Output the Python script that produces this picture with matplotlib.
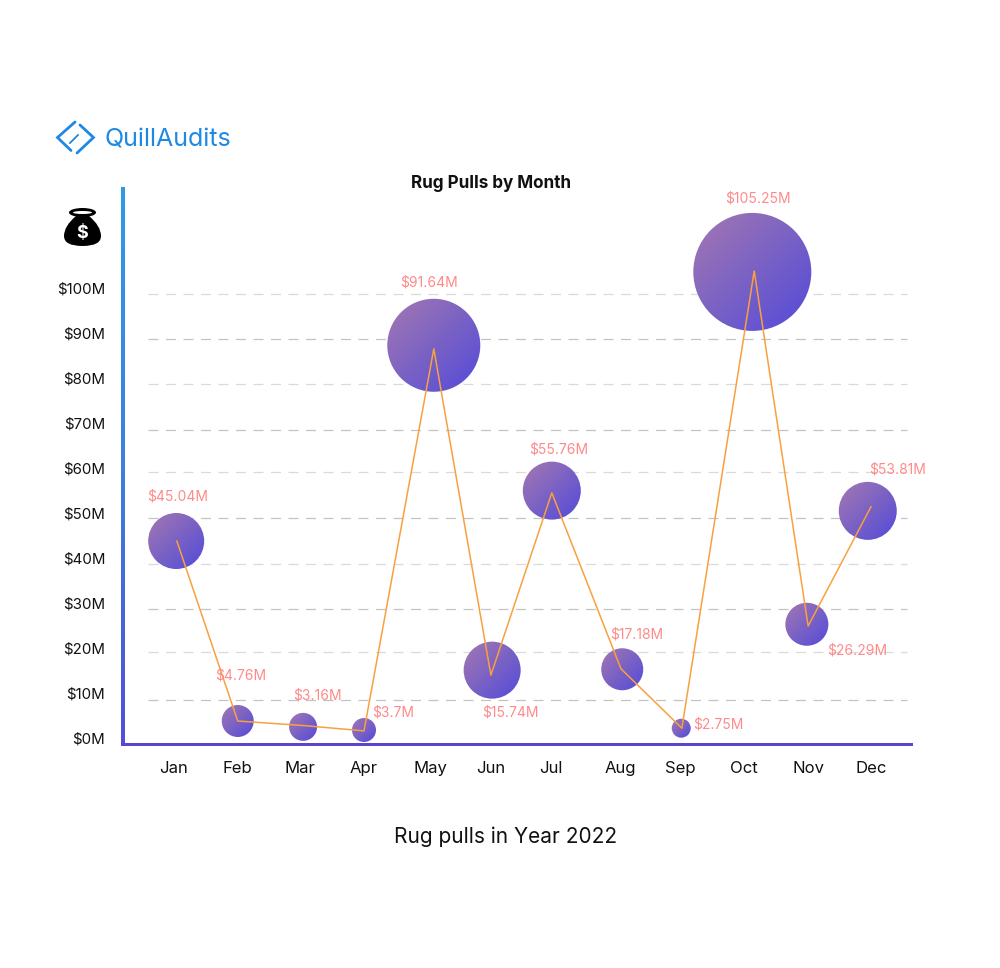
import numpy as np
import matplotlib
matplotlib.use('Agg')
import matplotlib.pyplot as plt
from matplotlib.colors import LinearSegmentedColormap
from matplotlib.patches import Ellipse, PathPatch, Rectangle
from matplotlib.path import Path

plt.rcParams['font.family'] = ['Inter', 'DejaVu Sans']

# Data
months = ['Jan', 'Feb', 'Mar', 'Apr', 'May', 'Jun', 'Jul', 'Aug', 'Sep', 'Oct', 'Nov', 'Dec']
month_ticks = [0, 1.01, 2.0, 3.01, 4.05, 5.0, 5.95, 7.05, 8.0, 8.99, 10.01, 11.0]
line_x = [0.06, 1.02, 2.05, 3.01, 4.11, 5.01, 5.97, 7.06, 8.02, 9.16, 10.01, 11.0]
line_y = [44, 4, 3, 1.8, 86.7, 14.2, 54.7, 15.6, 2.4, 104, 25.1, 51.6]
bubble_x = [0.05, 1.02, 2.05, 3.01, 4.11, 5.03, 5.97, 7.08, 8.01, 9.13, 9.99, 10.95]
bubble_y = [44, 4, 2.7, 2, 87.5, 15.3, 55.2, 15.5, 2.4, 103.8, 25.5, 50.7]
bubble_r = [28, 16, 14, 12, 46.5, 28.5, 29, 21, 9.5, 59, 21.5, 29]
labels = ['$45.04M', '$4.76M', '$3.16M', '$3.7M', '$91.64M', '$15.74M', '$55.76M',
          '$17.18M', '$2.75M', '$105.25M', '$26.29M', '$53.81M']
y_ticks = list(range(0, 101, 10))
grid_y = [8.7, 19.3, 28.9, 38.9, 49.1, 59.3, 68.7, 78.9, 88.9, 98.9]

# label offset from the line point, in pixels
label_dx = [1, 3, 14, 29, -5, 19, 7, 16, 36, 4, 49, 27]
label_dy = [45, 46, 30, 18, 66, -37, 43, 34, 4, 73, -24, 37]

W, H = 1000, 968
fig = plt.figure(figsize=(W / 100, H / 100), dpi=100, facecolor='white')

# axes box in pixels: left 122, right 912, top 187, bottom 744
ax = fig.add_axes([122 / W, 1 - 744 / H, 790 / W, 557 / H])
ax.set_xlim(-0.804, 11.647)
ax.set_ylim(-1.11, 122.67)
px_x = 790 / (11.647 + 0.804)
px_y = 557 / (122.67 + 1.11)
for s in ax.spines.values():
    s.set_visible(False)

# grid
for i, g in enumerate(grid_y):
    col = '#c4c4c4' if i % 2 == 0 else '#dadada'
    ax.axhline(g, xmin=26 / 790, xmax=785 / 790, color=col, lw=0.9, dashes=(8, 6), zorder=1)

# bubbles with a diagonal gradient, image a bit larger than the clip circle
bubble_cmap = LinearSegmentedColormap.from_list('bubble', ['#a97ab0', '#7a62c4', '#4f47dc'])
yy, xx = np.mgrid[0:1:200j, 0:1:200j]
grad = (xx + yy) / 2
for x, y, r in zip(bubble_x, bubble_y, bubble_r):
    w, h = 2 * r / px_x, 2 * r / px_y
    im = ax.imshow(grad, cmap=bubble_cmap, aspect='auto', origin='upper', zorder=2,
                   extent=[x - w * 0.55, x + w * 0.55, y - h * 0.55, y + h * 0.55])
    im.set_clip_path(Ellipse((x, y), w, h, transform=ax.transData))
ax.set_xlim(-0.804, 11.647)
ax.set_ylim(-1.11, 122.67)

ax.plot(line_x, line_y, color='#f9a03f', lw=1.1, zorder=3)

for x, y, t, dx, dy in zip(line_x, line_y, labels, label_dx, label_dy):
    ax.annotate(t.replace('$', r'\$'), xy=(x, y), xytext=(dx, dy), textcoords='offset pixels',
                ha='center', va='center', color='#ff8a8a', fontsize=10, zorder=4)

ax.set_xticks(month_ticks)
ax.set_xticklabels(months, fontsize=12, color='#111111')
ax.tick_params(axis='x', length=0, pad=12.5)
ax.set_yticks(y_ticks)
ax.set_yticklabels([r'\$%dM' % v for v in y_ticks], fontsize=10.8, color='#111111', va='center')
ax.tick_params(axis='y', length=0, pad=12)

# overlay in pixel coordinates for logo, icon, coloured axis lines and captions
ov = fig.add_axes([0, 0, 1, 1], facecolor='none')
ov.set_xlim(0, W)
ov.set_ylim(H, 0)
ov.axis('off')

left_cmap = LinearSegmentedColormap.from_list('left', ['#2f9ae8', '#3d7fe0', '#5050d8'])
ov.imshow(np.linspace(0, 1, 200).reshape(-1, 1), cmap=left_cmap, aspect='auto',
          extent=[120.5, 124, 746, 187], zorder=2)
ov.add_patch(Rectangle((121, 743), 792, 3, color='#5b45cc', lw=0, zorder=3))
ov.set_xlim(0, W)
ov.set_ylim(H, 0)

ov.text(491, 183, 'Rug Pulls by Month', ha='center', va='center', fontsize=12.3, fontweight='bold', color='#111111')
ov.text(506, 837, 'Rug pulls in Year 2022', ha='center', va='center', fontsize=15, color='#111111')

# logo
blue = '#1e88e5'
ov.plot([75, 57.5, 71], [122, 137.5, 150.5], color=blue, lw=2.0, solid_capstyle='round', solid_joinstyle='miter')
ov.plot([80, 93.5, 77], [125, 137.5, 153], color=blue, lw=2.0, solid_capstyle='round', solid_joinstyle='miter')
ov.plot([70, 78], [143, 135], color=blue, lw=1.3)
ov.text(105, 140, 'QuillAudits', ha='left', va='center', fontsize=18, color=blue)

# money bag
bag = Path([(76, 216), (64, 226), (64, 236), (64, 246), (82.5, 246),
            (101, 246), (101, 236), (101, 226), (89, 216), (76, 216)],
           [Path.MOVETO] + [Path.CURVE3] * 8 + [Path.CLOSEPOLY])
ov.add_patch(PathPatch(bag, facecolor='black', edgecolor='black', lw=0))
ov.add_patch(Ellipse((82.5, 212.5), 27, 9, facecolor='black', lw=0))
ov.add_patch(Ellipse((82.5, 212.5), 19, 3, facecolor='white', lw=0))
ov.text(82.5, 233, r'\$', ha='center', va='center', color='white', fontsize=13, fontweight='bold')

fig.savefig('out.png', dpi=100)
